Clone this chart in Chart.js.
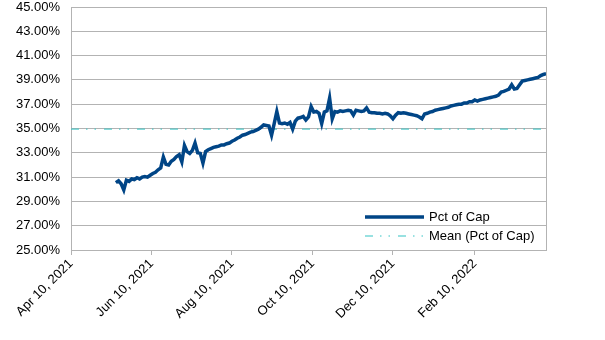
<!DOCTYPE html>
<html>
<head>
<meta charset="utf-8">
<title>Pct of Cap</title>
<script src="https://cdn.jsdelivr.net/npm/chart.js@4"></script>
<style>
    body { margin: 0; background: #fff; }
    #wrap { width: 605px; height: 340px; }
</style>
</head>
<body>
<div id="wrap"><canvas id="capChart" width="605" height="340"></canvas></div>
<script>
// Chart data (one value every 2 days)
const startDate = '2021-05-14';
const stepDays = 2;
const pctOfCap = [
    30.55, 30.70, 30.45, 29.95, 30.75, 30.65, 30.85, 30.80, 30.95, 30.85,
    31.00, 31.05, 31.00, 31.15, 31.30, 31.40, 31.60, 31.75, 32.65, 32.05,
    32.00, 32.30, 32.45, 32.70, 32.85, 32.25, 33.60, 33.10, 32.95, 33.20,
    33.80, 33.00, 32.95, 32.15, 33.10, 33.25, 33.35, 33.45, 33.50, 33.55,
    33.65, 33.65, 33.75, 33.80, 33.95, 34.05, 34.20, 34.30, 34.45, 34.50,
    34.60, 34.70, 34.75, 34.85, 34.95, 35.10, 35.30, 35.25, 35.20, 34.45,
    35.40, 36.40, 35.45, 35.40, 35.45, 35.35, 35.50, 34.95, 35.60, 35.85,
    35.90, 36.00, 35.70, 35.95, 36.80, 36.35, 36.40, 36.25, 35.40, 36.35,
    36.45, 37.50, 35.80, 36.40, 36.35, 36.45, 36.40, 36.45, 36.50, 36.45,
    36.10, 36.50, 36.45, 36.40, 36.45, 36.70, 36.35, 36.30, 36.30, 36.25,
    36.25, 36.20, 36.25, 36.20, 36.05, 35.80, 36.10, 36.30, 36.25, 36.30,
    36.25, 36.20, 36.15, 36.10, 36.05, 35.95, 35.80, 36.20, 36.25, 36.35,
    36.40, 36.50, 36.55, 36.60, 36.65, 36.70, 36.75, 36.85, 36.90, 36.95,
    37.00, 37.00, 37.10, 37.10, 37.20, 37.20, 37.35, 37.25, 37.35, 37.40,
    37.45, 37.50, 37.55, 37.60, 37.65, 37.75, 38.00, 38.05, 38.15, 38.25,
    38.60, 38.25, 38.30, 38.60, 38.90, 38.95, 39.00, 39.05, 39.10, 39.15,
    39.20, 39.35, 39.45, 39.50
];
const meanPct = 34.95;

const tickDates = ['2021-04-10', '2021-06-10', '2021-08-10', '2021-10-10', '2021-12-10', '2022-02-10'];
const tickLabels = ['Apr 10, 2021', 'Jun 10, 2021', 'Aug 10, 2021', 'Oct 10, 2021', 'Dec 10, 2021', 'Feb 10, 2022'];

const seriesLabels = ['Pct of Cap', 'Mean (Pct of Cap)'];

function dayNum(s) {
    return Date.parse(s + 'T00:00:00Z') / 86400000;
}

const firstDay = dayNum(startDate);
const capPoints = pctOfCap.map((v, i) => ({ x: firstDay + i * stepDays, y: v }));
const xMin = dayNum(tickDates[0]);
const xMax = capPoints[capPoints.length - 1].x;
const meanPoints = [{ x: xMin, y: meanPct }, { x: xMax, y: meanPct }];

const FONT = "'Liberation Sans', Arial, sans-serif";
const GRID = '#b3b3b3';

// legend drawn inside the plot, bottom right, plus the right border line
const insideLegend = {
    id: 'insideLegend',
    afterDraw(chart) {
        const ctx = chart.ctx;
        const area = chart.chartArea;
        ctx.save();

        ctx.strokeStyle = GRID;
        ctx.lineWidth = 1;
        ctx.beginPath();
        ctx.moveTo(Math.round(area.right) + 0.5, area.top);
        ctx.lineTo(Math.round(area.right) + 0.5, area.bottom);
        ctx.stroke();

        const x0 = area.right - 181;
        const x1 = area.right - 122;
        const rows = [area.bottom - 33, area.bottom - 14];
        chart.data.datasets.forEach((ds, i) => {
            const y = rows[i];
            ctx.strokeStyle = ds.borderColor;
            ctx.lineWidth = ds.borderWidth;
            ctx.setLineDash(ds.borderDash || []);
            ctx.beginPath();
            ctx.moveTo(x0, y);
            ctx.lineTo(x1, y);
            ctx.stroke();
            ctx.setLineDash([]);
            ctx.fillStyle = '#000';
            ctx.font = '13px ' + FONT;
            ctx.textBaseline = 'middle';
            ctx.fillText(ds.label, x1 + 5, y);
        });
        ctx.restore();
    }
};

new Chart(document.getElementById('capChart'), {
    type: 'line',
    data: {
        datasets: [{
            label: seriesLabels[0],
            data: capPoints,
            borderColor: '#004586',
            borderWidth: 3.5,
            pointRadius: 0,
            tension: 0
        }, {
            label: seriesLabels[1],
            data: meanPoints,
            borderColor: '#33c3c3',
            borderWidth: 1,
            borderDash: [8, 7, 1.5, 7, 1.5, 8],
            pointRadius: 0
        }]
    },
    options: {
        responsive: false,
        animation: false,
        layout: { padding: { top: 7, right: 59, left: 0, bottom: 0 } },
        plugins: {
            legend: { display: false },
            tooltip: { enabled: false }
        },
        scales: {
            x: {
                type: 'linear',
                min: xMin,
                max: xMax,
                afterBuildTicks: axis => {
                    axis.ticks = tickDates.map(d => ({ value: dayNum(d) }));
                },
                afterFit: scale => { scale.height = 90; },
                grid: { drawOnChartArea: false, color: GRID, tickLength: 5 },
                border: { color: GRID },
                ticks: {
                    autoSkip: false,
                    minRotation: 45,
                    maxRotation: 45,
                    padding: 1,
                    color: '#000',
                    font: { family: FONT, size: 13 },
                    callback: (v, i) => tickLabels[i]
                }
            },
            y: {
                min: 25,
                max: 45,
                afterFit: scale => {
                    scale.width = 71;
                    scale.paddingTop = 0;
                },
                grid: { color: GRID, drawTicks: false },
                border: { color: GRID },
                ticks: {
                    stepSize: 2,
                    padding: 11,
                    color: '#000',
                    font: { family: FONT, size: 13 },
                    callback: v => v.toFixed(2) + '%'
                }
            }
        }
    },
    plugins: [insideLegend]
});
</script>
</body>
</html>
